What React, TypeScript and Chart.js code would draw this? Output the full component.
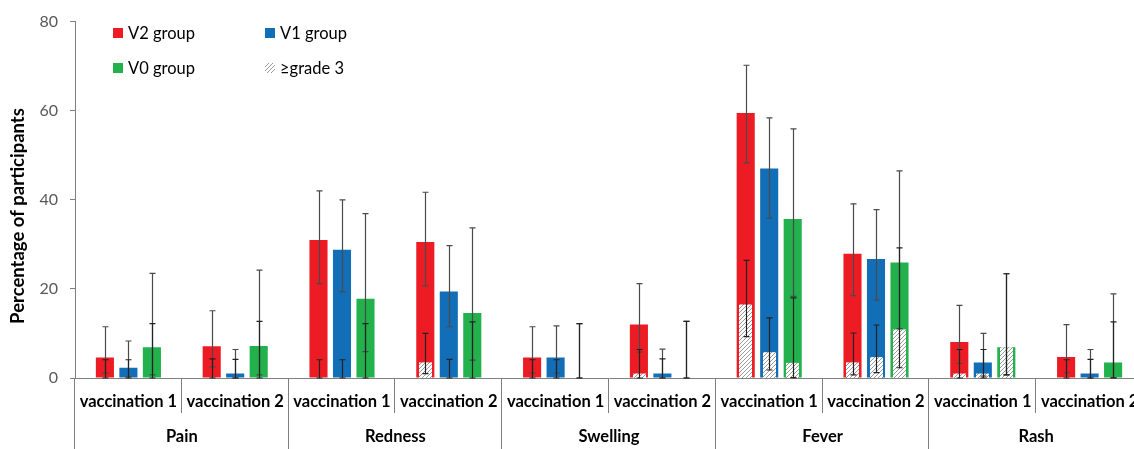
import React, { useEffect, useRef } from "react";
import { Chart, registerables } from "chart.js";

Chart.register(...registerables);

const categories = [
  "vaccination 1", "vaccination 2",
  "vaccination 1", "vaccination 2",
  "vaccination 1", "vaccination 2",
  "vaccination 1", "vaccination 2",
  "vaccination 1", "vaccination 2",
];
const groups = ["Pain", "Redness", "Swelling", "Fever", "Rash"];
const yTicks = [0, 20, 40, 60, 80];

const v2Values = [4.6, 7.1, 31.0, 30.5, 4.6, 12.0, 59.5, 27.9, 8.1, 4.7];
const v2Low = [1.1, 2.5, 21.2, 20.7, 1.1, 5.8, 48.3, 18.5, 3.3, 1.2];
const v2High = [11.5, 15.1, 42.0, 41.7, 11.5, 21.2, 70.2, 39.1, 16.3, 12.0];
const v2G3 = [0, 0, 0, 3.5, 0, 1.0, 16.5, 3.5, 1.0, 0];
const v2G3Low = [0, 0, 0, 1.0, 0, 0, 9.3, 0.7, 0, 0];
const v2G3High = [4.1, 4.3, 4.1, 10.0, 4.1, 6.4, 26.4, 10.1, 6.4, 4.1];

const v1Values = [2.3, 1.0, 28.8, 19.4, 4.6, 1.0, 47.0, 26.7, 3.5, 1.0];
const v1Low = [0.3, 0, 19.4, 11.5, 1.1, 0, 35.9, 17.5, 0.4, 0];
const v1High = [8.3, 6.4, 40.0, 29.7, 11.7, 6.5, 58.4, 37.8, 10.0, 6.4];
const v1G3 = [0, 0, 0, 0, 0, 0, 5.8, 4.7, 1.0, 0];
const v1G3Low = [0, 0, 0, 0, 0, 0, 1.8, 1.2, 0, 0];
const v1G3High = [4.1, 4.2, 4.1, 4.2, 4.1, 4.3, 13.5, 11.9, 6.4, 4.2];

const v0Values = [6.9, 7.2, 17.8, 14.6, 0, 0, 35.7, 25.9, 6.9, 3.5];
const v0Low = [0.7, 0.7, 5.9, 4.0, 0, 0, 18.3, 11.1, 0.7, 0.1];
const v0High = [23.5, 24.2, 36.9, 33.7, 12.2, 12.7, 55.9, 46.5, 23.4, 18.9];
const v0G3 = [0, 0, 0, 0, 0, 0, 3.4, 10.9, 6.9, 0];
const v0G3Low = [0, 0, 0, 0, 0, 0, 0.1, 2.3, 0.7, 0];
const v0G3High = [12.2, 12.7, 12.2, 12.6, 12.2, 12.7, 18.0, 29.2, 23.4, 12.6];

const RED = "#ED1C24";
const BLUE = "#136EB8";
const GREEN = "#22B14C";
const FONT = "Lato, 'Open Sans', sans-serif";

function makeHatch(): CanvasPattern | string {
  const c = document.createElement("canvas");
  c.width = 4;
  c.height = 4;
  const ctx = c.getContext("2d");
  if (!ctx) return "#ddd";
  ctx.fillStyle = "#ffffff";
  ctx.fillRect(0, 0, 4, 4);
  ctx.strokeStyle = "#9a9a9a";
  ctx.lineWidth = 1;
  ctx.beginPath();
  ctx.moveTo(-1, 5);
  ctx.lineTo(5, -1);
  ctx.moveTo(-1, 1);
  ctx.lineTo(1, -1);
  ctx.moveTo(3, 5);
  ctx.lineTo(5, 3);
  ctx.stroke();
  const p = ctx.createPattern(c, "repeat");
  return p || "#ddd";
}

const seriesExtra = [
  { g3: v2G3, low: v2Low, high: v2High, g3Low: v2G3Low, g3High: v2G3High },
  { g3: v1G3, low: v1Low, high: v1High, g3Low: v1G3Low, g3High: v1G3High },
  { g3: v0G3, low: v0Low, high: v0High, g3Low: v0G3Low, g3High: v0G3High },
];

const decorPlugin = {
  id: "decor",
  afterDatasetsDraw(chart: any) {
    const ctx = chart.ctx;
    const y = chart.scales.y;
    ctx.save();
    const hatch = makeHatch();
    // hatched >= grade 3 overlays
    for (let d = 0; d < 3; d++) {
      const meta = chart.getDatasetMeta(d);
      const es = seriesExtra[d];
      meta.data.forEach((bar: any, i: number) => {
        const v = es.g3[i];
        if (!v) return;
        const w = bar.width * 0.7;
        const top = y.getPixelForValue(v);
        const base = y.getPixelForValue(0);
        ctx.fillStyle = hatch as any;
        ctx.fillRect(Math.round(bar.x - w / 2), top, Math.round(w), base - top);
      });
    }
    // error bars
    const drawErr = (cx: number, lo: number, hi: number, color: string) => {
      const py1 = y.getPixelForValue(lo);
      const py2 = y.getPixelForValue(hi);
      ctx.strokeStyle = color;
      ctx.lineWidth = 1.2;
      ctx.beginPath();
      ctx.moveTo(cx, py1);
      ctx.lineTo(cx, py2);
      ctx.moveTo(cx - 3, py1);
      ctx.lineTo(cx + 3, py1);
      ctx.moveTo(cx - 3, py2);
      ctx.lineTo(cx + 3, py2);
      ctx.stroke();
    };
    for (let d = 0; d < 3; d++) {
      const meta = chart.getDatasetMeta(d);
      const es = seriesExtra[d];
      meta.data.forEach((bar: any, i: number) => {
        const cx = Math.round(bar.x) + 0.5;
        drawErr(cx, es.low[i], es.high[i], "#4a4a4a");
        drawErr(cx, es.g3Low[i], es.g3High[i], "#222222");
      });
    }
    ctx.restore();
  },
  afterDraw(chart: any) {
    const ctx = chart.ctx;
    const x = chart.scales.x;
    const area = chart.chartArea;
    const H = chart.height;
    ctx.save();
    const n = categories.length;
    const cw = (area.right - area.left) / n;
    // dividers
    ctx.strokeStyle = "#7f7f7f";
    ctx.lineWidth = 1;
    for (let k = 0; k <= n; k++) {
      const px = Math.round(area.left + k * cw) - 0.5;
      const bottom = k % 2 === 0 ? H : area.bottom + 35;
      ctx.beginPath();
      ctx.moveTo(px, area.bottom);
      ctx.lineTo(px, bottom);
      ctx.stroke();
    }
    // category labels
    ctx.fillStyle = "#000";
    ctx.textAlign = "center";
    ctx.textBaseline = "middle";
    ctx.font = `bold 16.5px ${FONT}`;
    categories.forEach((c, i) => {
      ctx.fillText(c, x.getPixelForValue(i), area.bottom + 24);
    });
    groups.forEach((g, i) => {
      const cx = (x.getPixelForValue(2 * i) + x.getPixelForValue(2 * i + 1)) / 2;
      ctx.fillText(g, cx, area.bottom + 59);
    });
    // y title
    ctx.save();
    ctx.translate(18, 216);
    ctx.rotate(-Math.PI / 2);
    ctx.font = `bold 18.5px ${FONT}`;
    ctx.fillText("Percentage of participants", 0, 0);
    ctx.restore();
    // legend
    const hatch = makeHatch();
    const items = [
      { label: "V2 group", color: RED, x: 113, y: 33 },
      { label: "V1 group", color: BLUE, x: 265, y: 33 },
      { label: "V0 group", color: GREEN, x: 113, y: 68 },
      { label: "\u2265grade 3", color: hatch, x: 265, y: 68 },
    ];
    ctx.font = `16.5px ${FONT}`;
    ctx.textAlign = "left";
    items.forEach((it) => {
      ctx.fillStyle = it.color as any;
      ctx.fillRect(it.x, it.y - 5, 10, 10);
      ctx.fillStyle = "#000";
      ctx.fillText(it.label, it.x + 15, it.y + 1);
    });
    ctx.restore();
  },
};

export default function App() {
  const ref = useRef<HTMLCanvasElement | null>(null);
  useEffect(() => {
    if (!ref.current) return;
    const common = { categoryPercentage: 0.66, barPercentage: 0.77, borderWidth: 0 };
    const chart = new Chart(ref.current, {
      type: "bar",
      data: {
        labels: categories,
        datasets: [
          { label: "V2 group", data: v2Values, backgroundColor: RED, ...common },
          { label: "V1 group", data: v1Values, backgroundColor: BLUE, ...common },
          { label: "V0 group", data: v0Values, backgroundColor: GREEN, ...common },
        ],
      },
      options: {
        animation: false,
        responsive: false,
        maintainAspectRatio: false,
        layout: { padding: { top: 17, right: 7, left: 0, bottom: 0 } },
        plugins: { legend: { display: false }, tooltip: { enabled: false } },
        scales: {
          x: {
            type: "category",
            offset: true,
            grid: { display: false },
            border: { display: true, color: "#7f7f7f", width: 1 },
            ticks: { display: false },
            afterFit: (s: any) => { s.height = 71; },
          },
          y: {
            min: 0,
            max: 80,
            afterBuildTicks: (s: any) => { s.ticks = yTicks.map((v) => ({ value: v })); },
            ticks: {
              color: "#595959",
              font: { family: FONT, size: 16 },
              padding: 12,
            },
            grid: {
              display: true,
              drawOnChartArea: false,
              drawTicks: true,
              tickLength: 5,
              color: "#7f7f7f",
            },
            border: { display: true, color: "#7f7f7f", width: 1 },
            afterFit: (s: any) => { s.width = 75; },
          },
        },
      },
      plugins: [decorPlugin],
    });
    return () => chart.destroy();
  }, []);
  return (
    <div style={{ position: "fixed", left: 0, top: 0, width: 1134, height: 449, overflow: "hidden", background: "#fff" }}>
      <canvas ref={ref} width={1150} height={449} style={{ width: 1150, height: 449, display: "block" }} />
    </div>
  );
}
